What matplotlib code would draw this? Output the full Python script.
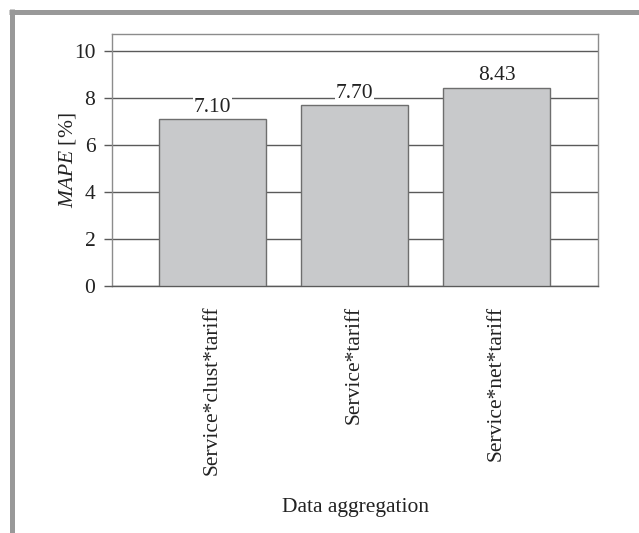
import matplotlib.pyplot as plt
from matplotlib.lines import Line2D

# ---------- Data ----------
categories = ['Service*clust*tariff', 'Service*tariff', 'Service*net*tariff']
mape = [7.10, 7.70, 8.43]
yticks = [0, 2, 4, 6, 8, 10]

# ---------- Style ----------
plt.rcParams['font.family'] = ['Liberation Serif', 'DejaVu Serif']
plt.rcParams['mathtext.fontset'] = 'custom'
plt.rcParams['mathtext.it'] = 'Liberation Serif:italic'
plt.rcParams['mathtext.rm'] = 'Liberation Serif'

FS = 15.5
W, H = 639, 533
fig = plt.figure(figsize=(W / 100, H / 100), dpi=100)
ax = fig.add_axes([112 / W, (H - 286) / H, 486 / W, 252 / H])

x = list(range(len(categories)))
ax.bar(x, mape, width=0.75, color='#c8c9cb', edgecolor='#6e6e6e', linewidth=1.0, zorder=3)

for xi, v in zip(x, mape):
    ax.text(xi, v + 0.1, f'{v:.2f}', ha='center', va='bottom', fontsize=FS, color='#222222',
            zorder=4, bbox=dict(facecolor='white', edgecolor='none', pad=0.5))

ax.set_xlim(-0.708, 2.715)
ax.set_ylim(0, 10.72)
ax.set_yticks(yticks)
ax.yaxis.grid(True, color='#5a5a5a', linewidth=1.0, zorder=0)
ax.set_axisbelow(True)

ax.set_xticks(x)
ax.set_xticklabels(categories, rotation=90, fontsize=FS, color='#222222')
ax.tick_params(axis='x', length=0, pad=14)
ax.tick_params(axis='y', length=6, width=1.0, color='#5a5a5a', pad=6, labelsize=FS,
               labelcolor='#222222')

for side in ['left', 'right', 'top', 'bottom']:
    ax.spines[side].set_color('#8c8c8c')
    ax.spines[side].set_linewidth(1.0)
ax.spines['bottom'].set_color('#5a5a5a')

ax.set_ylabel(r'$\it{MAPE}$ [%]', fontsize=FS, color='#222222', labelpad=-3)
fig.text(355 / W, 1 - 512 / H, 'Data aggregation', ha='center', va='baseline', fontsize=FS,
         color='#222222')

# ---------- Gray frame ----------
fig.add_artist(Line2D([9 / W, 1.0], [1 - 11.5 / H, 1 - 11.5 / H], color='#999999', linewidth=3.6,
                      solid_capstyle='butt', transform=fig.transFigure))
fig.add_artist(Line2D([11.5 / W, 11.5 / W], [1 - 9 / H, 0.0], color='#999999', linewidth=3.6,
                      solid_capstyle='butt', transform=fig.transFigure))

fig.savefig('out.png', dpi=100)
